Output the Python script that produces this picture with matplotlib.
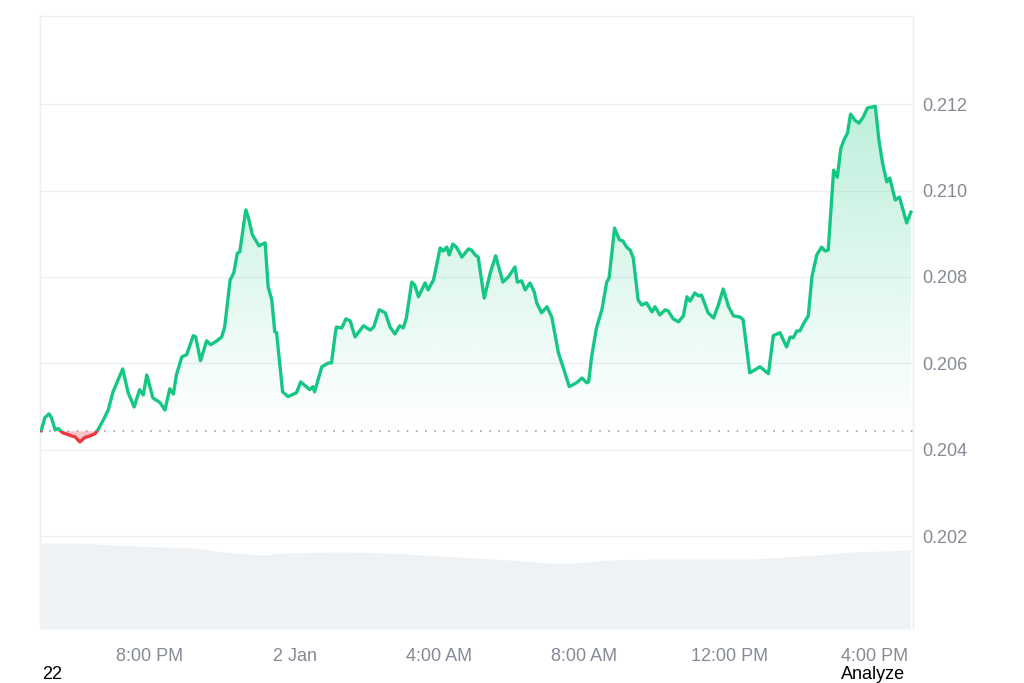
import numpy as np
import pandas as pd
import matplotlib
matplotlib.use("Agg")
import matplotlib.pyplot as plt
import matplotlib.dates as mdates
import matplotlib.patches as mpatches
import matplotlib.transforms as mtransforms
from matplotlib.path import Path
from matplotlib.ticker import FuncFormatter

plt.rcParams['font.family'] = ['Liberation Sans', 'DejaVu Sans']

start = pd.Timestamp('2025-01-01 17:00')

# price trace: minutes after start, price
minutes = [
    0, 6, 13, 17, 23, 28, 36, 45, 50, 56,
    64, 72, 81, 89, 94, 103, 111, 119, 135, 144,
    154, 163, 169, 175, 185, 197, 205, 213, 219, 224,
    233, 241, 252, 256, 264, 274, 281, 291, 299, 304,
    313, 319, 325, 329, 339, 343, 350, 361, 371, 376,
    382, 387, 390, 400, 409, 423, 430, 445, 450, 453,
    465, 476, 481, 487, 489, 498, 505, 512, 520, 534,
    545, 551, 560, 570, 578, 586, 594, 600, 605, 614,
    619, 625, 636, 641, 650, 661, 666, 672, 676, 682,
    688, 697, 708, 713, 719, 724, 734, 744, 753, 765,
    774, 785, 789, 796, 802, 810, 817, 821, 829, 838,
    846, 857, 865, 875, 887, 896, 904, 907, 912, 920,
    929, 937, 941, 950, 958, 964, 970, 976, 981, 989,
    995, 1003, 1012, 1017, 1025, 1034, 1039, 1047, 1056, 1064,
    1070, 1075, 1083, 1089, 1094, 1105, 1114, 1122, 1130, 1139,
    1147, 1158, 1163, 1174, 1191, 1205, 1213, 1224, 1235, 1241,
    1246, 1252, 1257, 1264, 1271, 1277, 1285, 1293, 1299, 1304,
    1313, 1319, 1325, 1330, 1336, 1341, 1348, 1355, 1362, 1369,
    1382, 1388, 1394, 1401, 1406, 1415, 1422, 1434, 1441,
]
prices = [
    0.20444, 0.20474, 0.20483, 0.20474, 0.20446, 0.20449, 0.20439, 0.20435, 0.20432, 0.20430,
    0.20418, 0.20428, 0.20432, 0.20437, 0.20446, 0.20469, 0.20492, 0.20534, 0.20587, 0.20532,
    0.20499, 0.20539, 0.20527, 0.20573, 0.20520, 0.20509, 0.20492, 0.20541, 0.20529, 0.20573,
    0.20615, 0.20620, 0.20664, 0.20661, 0.20606, 0.20652, 0.20643, 0.20652, 0.20661, 0.20684,
    0.20793, 0.20809, 0.20855, 0.20858, 0.20955, 0.20939, 0.20897, 0.20872, 0.20879, 0.20777,
    0.20747, 0.20673, 0.20671, 0.20534, 0.20523, 0.20532, 0.20557, 0.20539, 0.20546, 0.20534,
    0.20592, 0.20601, 0.20601, 0.20666, 0.20684, 0.20682, 0.20703, 0.20698, 0.20661, 0.20687,
    0.20677, 0.20684, 0.20724, 0.20717, 0.20684, 0.20668, 0.20687, 0.20682, 0.20705, 0.20788,
    0.20781, 0.20754, 0.20786, 0.20770, 0.20793, 0.20867, 0.20860, 0.20869, 0.20851, 0.20876,
    0.20869, 0.20846, 0.20865, 0.20862, 0.20851, 0.20846, 0.20751, 0.20809, 0.20849, 0.20788,
    0.20800, 0.20823, 0.20788, 0.20791, 0.20770, 0.20786, 0.20765, 0.20740, 0.20717, 0.20731,
    0.20707, 0.20624, 0.20590, 0.20546, 0.20555, 0.20566, 0.20555, 0.20557, 0.20615, 0.20682,
    0.20724, 0.20788, 0.20798, 0.20913, 0.20886, 0.20883, 0.20869, 0.20862, 0.20844, 0.20747,
    0.20735, 0.20740, 0.20719, 0.20731, 0.20712, 0.20724, 0.20721, 0.20703, 0.20696, 0.20710,
    0.20754, 0.20744, 0.20763, 0.20756, 0.20758, 0.20717, 0.20705, 0.20735, 0.20772, 0.20731,
    0.20710, 0.20707, 0.20701, 0.20578, 0.20592, 0.20576, 0.20664, 0.20671, 0.20638, 0.20661,
    0.20659, 0.20675, 0.20675, 0.20694, 0.20710, 0.20800, 0.20851, 0.20869, 0.20860, 0.20862,
    0.21047, 0.21031, 0.21098, 0.21117, 0.21133, 0.21177, 0.21163, 0.21156, 0.21170, 0.21191,
    0.21195, 0.21117, 0.21064, 0.21020, 0.21029, 0.20978, 0.20985, 0.20925, 0.20950,
]

# volume profile (arbitrary units)
vol_minutes = [0, 56, 158, 256, 299, 371, 397, 495, 581, 690, 777, 841, 884, 939, 1015, 1178, 1285, 1340, 1440]
volumes = [8.6, 8.6, 8.3, 8.1, 7.7, 7.4, 7.6, 7.7, 7.6, 7.2, 6.9, 6.6, 6.6, 6.9, 7.0, 7.0, 7.4, 7.7, 7.9]

y_ticks = [0.202, 0.204, 0.206, 0.208, 0.210, 0.212]

green = '#16c784'
red = '#ea3943'
grey_txt = '#858a96'

t = mdates.date2num((start + pd.to_timedelta(minutes, unit='min')).to_pydatetime())
tv = mdates.date2num((start + pd.to_timedelta(vol_minutes, unit='min')).to_pydatetime())
p = np.array(prices)
base = prices[0]

fig = plt.figure(figsize=(10.24, 6.83), dpi=100)
ax = fig.add_axes([40 / 1024, 1 - 629 / 683, 873 / 1024, 613 / 683])
ax2 = ax.twinx()
ax.set_zorder(ax2.get_zorder() + 1)
ax.patch.set_visible(False)

x0 = t[0] - 2 / 1440
x1 = t[-1] + 3.5 / 1440
ymin, ymax = 0.19985, 0.21404

# volume
ax2.fill_between(tv, volumes, 0, color='#eff2f5', lw=0)
ax2.set_ylim(0, 61.3)
ax2.set_yticks([])
for s in ax2.spines.values():
    s.set_visible(False)

# grid
for yv in y_ticks:
    ax.axhline(yv, color='#eff0f2', lw=1, zorder=0)

# gradient fill above baseline
above = ax.fill_between(t, p, base, where=p >= base, interpolate=True, color='none', lw=0)
clip = Path.make_compound_path(*above.get_paths())
grad = np.zeros((256, 1, 4))
grad[:, 0, :3] = matplotlib.colors.to_rgb(green)
grad[:, 0, 3] = np.linspace(0.30, 0.0, 256)
im = ax.imshow(grad, extent=[x0, x1, base, 0.2125], aspect='auto', origin='upper', zorder=1)
im.set_clip_path(clip, transform=ax.transData)

# red fill below baseline
ax.fill_between(t, p, base, where=p < base, interpolate=True, color=red, alpha=0.28, lw=0, zorder=1)

# baseline
ax.axhline(base, color='#9a9a9a', lw=1.1, linestyle=(0, (1.1, 4.9)), zorder=2)

# price line, split by colour with clip rects
blend = mtransforms.blended_transform_factory(ax.transAxes, ax.transData)
up_rect = mpatches.Rectangle((0, base), 1, 1, transform=blend)
dn_rect = mpatches.Rectangle((0, base - 1), 1, 1, transform=blend)
l_up, = ax.plot(t, p, color=green, lw=2.4, zorder=3, solid_joinstyle='round')
l_up.set_clip_path(up_rect)
l_dn, = ax.plot(t, p, color=red, lw=2.4, zorder=3, solid_joinstyle='round')
l_dn.set_clip_path(dn_rect)

ax.set_xlim(x0, x1)
ax.set_ylim(ymin, ymax)
ax2.set_xlim(x0, x1)

ax.yaxis.tick_right()
ax.set_yticks(y_ticks)
ax.yaxis.set_major_formatter(FuncFormatter(lambda v, pos: f'{v:.3f}'))
ax.tick_params(axis='y', length=0, pad=7, labelsize=13, labelcolor=grey_txt)


def time_fmt(v, pos):
    d = mdates.num2date(v)
    if d.hour == 0 and d.minute == 0:
        return f'{d.day} {d.strftime("%b")}'
    h = d.hour % 12 or 12
    return f'{h}:{d.minute:02d} {"AM" if d.hour < 12 else "PM"}'


ax.xaxis.set_major_locator(mdates.HourLocator(byhour=[0, 4, 8, 12, 16, 20]))
ax.xaxis.set_major_formatter(FuncFormatter(time_fmt))
ax.tick_params(axis='x', length=0, pad=14, labelsize=13, labelcolor=grey_txt)
ax2.tick_params(axis='x', length=0, labelbottom=False)

for name, s in ax.spines.items():
    s.set_color('#eeeeee')
    s.set_linewidth(1)
ax.spines['bottom'].set_visible(False)

fig.text(42 / 1024, 1 - 679 / 683, '22', fontsize=13, color='black', va='baseline', ha='left')
fig.text(905 / 1024, 1 - 679 / 683, 'Analyze', fontsize=13, color='black', va='baseline', ha='right')

fig.savefig('out.png', dpi=100, facecolor='white')
